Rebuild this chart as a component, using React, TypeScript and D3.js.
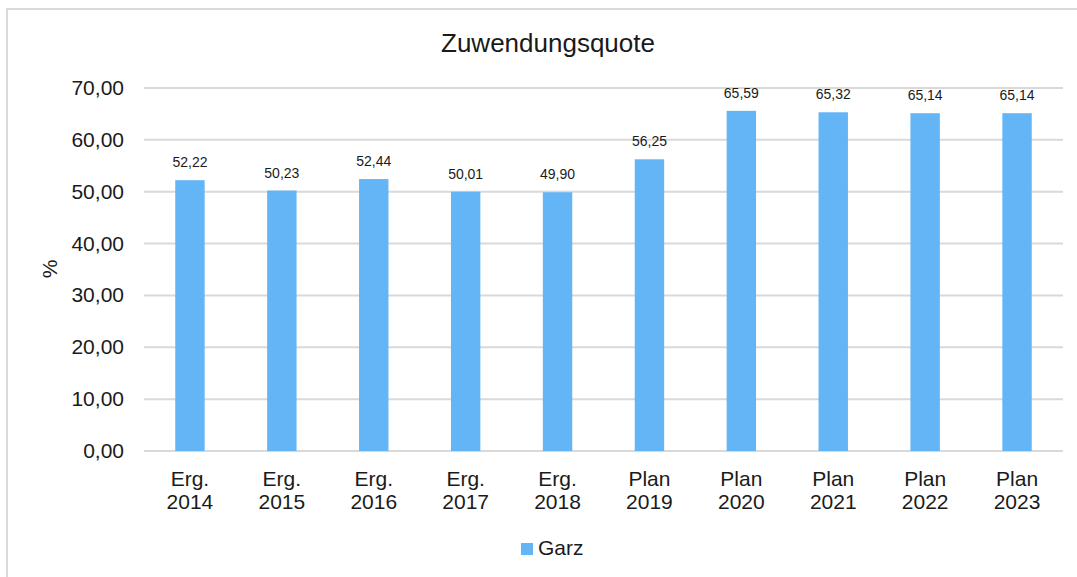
import React, { useEffect, useRef } from 'react';
import * as d3 from 'd3';

const categories = [
  'Erg. 2014', 'Erg. 2015', 'Erg. 2016', 'Erg. 2017', 'Erg. 2018',
  'Plan 2019', 'Plan 2020', 'Plan 2021', 'Plan 2022', 'Plan 2023',
];
const values = [52.22, 50.23, 52.44, 50.01, 49.9, 56.25, 65.59, 65.32, 65.14, 65.14];
const yTicks = [0, 10, 20, 30, 40, 50, 60, 70];
const seriesName = 'Garz';
const title = 'Zuwendungsquote';

const fmt = (v: number) => v.toFixed(2).replace('.', ',');

const App = () => {
  const svgRef = useRef<SVGSVGElement>(null);

  useEffect(() => {
    if (!svgRef.current) return;
    const svg = d3.select(svgRef.current);
    svg.selectAll('*').remove();

    const width = 1077;
    const height = 577;
    const font = '"Liberation Sans", Arial, sans-serif';
    const textColor = '#1a1a1a';
    const barColor = '#64b5f6';

    svg.attr('width', width).attr('height', height)
      .style('font-family', font);

    // frame
    svg.append('rect')
      .attr('x', 7).attr('y', 9)
      .attr('width', width + 20).attr('height', height + 20)
      .attr('fill', '#fff')
      .attr('stroke', '#d9d9d9')
      .attr('stroke-width', 2);

    const plot = { left: 144, right: 1063, top: 88, bottom: 451 };

    const xScale = d3.scaleBand()
      .domain(categories)
      .range([plot.left, plot.right])
      .paddingInner(0.68)
      .paddingOuter(0.34);

    const yScale = d3.scaleLinear()
      .domain([0, 70])
      .range([plot.bottom, plot.top]);

    // grid
    svg.append('g')
      .selectAll('line')
      .data(yTicks)
      .join('line')
      .attr('x1', plot.left)
      .attr('x2', plot.right)
      .attr('y1', d => yScale(d))
      .attr('y2', d => yScale(d))
      .attr('stroke', '#d9d9d9')
      .attr('stroke-width', 2);

    // y labels
    svg.append('g')
      .selectAll('text')
      .data(yTicks)
      .join('text')
      .attr('x', 124)
      .attr('y', d => yScale(d) + 7)
      .attr('text-anchor', 'end')
      .attr('font-size', 21)
      .attr('fill', textColor)
      .text(d => fmt(d));

    // bars
    svg.append('g')
      .selectAll('rect')
      .data(values)
      .join('rect')
      .attr('x', (d, i) => xScale(categories[i])!)
      .attr('width', xScale.bandwidth())
      .attr('y', d => yScale(d))
      .attr('height', d => plot.bottom - yScale(d))
      .attr('fill', barColor);

    // value labels
    svg.append('g')
      .selectAll('text')
      .data(values)
      .join('text')
      .attr('x', (d, i) => xScale(categories[i])! + xScale.bandwidth() / 2)
      .attr('y', d => yScale(d) - 13)
      .attr('text-anchor', 'middle')
      .attr('font-size', 14)
      .attr('fill', textColor)
      .text(d => fmt(d));

    // x labels (two lines)
    const xl = svg.append('g')
      .selectAll('text')
      .data(categories)
      .join('text')
      .attr('text-anchor', 'middle')
      .attr('font-size', 21)
      .attr('fill', textColor);
    xl.each(function (d) {
      const [a, b] = d.split(' ');
      const cx = xScale(d)! + xScale.bandwidth() / 2;
      const t = d3.select(this);
      t.append('tspan').attr('x', cx).attr('y', 486).text(a);
      t.append('tspan').attr('x', cx).attr('y', 509).text(b);
    });

    // y axis title
    svg.append('text')
      .attr('transform', 'translate(57, 269) rotate(-90)')
      .attr('text-anchor', 'middle')
      .attr('font-size', 21)
      .attr('fill', textColor)
      .text('%');

    // chart title
    svg.append('text')
      .attr('x', 548)
      .attr('y', 52)
      .attr('text-anchor', 'middle')
      .attr('font-size', 26)
      .attr('fill', textColor)
      .text(title);

    // legend
    svg.append('rect')
      .attr('x', 521).attr('y', 543)
      .attr('width', 12).attr('height', 12)
      .attr('fill', barColor);
    svg.append('text')
      .attr('x', 538).attr('y', 555)
      .attr('font-size', 21)
      .attr('fill', textColor)
      .text(seriesName);
  }, []);

  return (
    <svg ref={svgRef} style={{ position: 'absolute', left: 0, top: 0 }}></svg>
  );
};

export default App;
